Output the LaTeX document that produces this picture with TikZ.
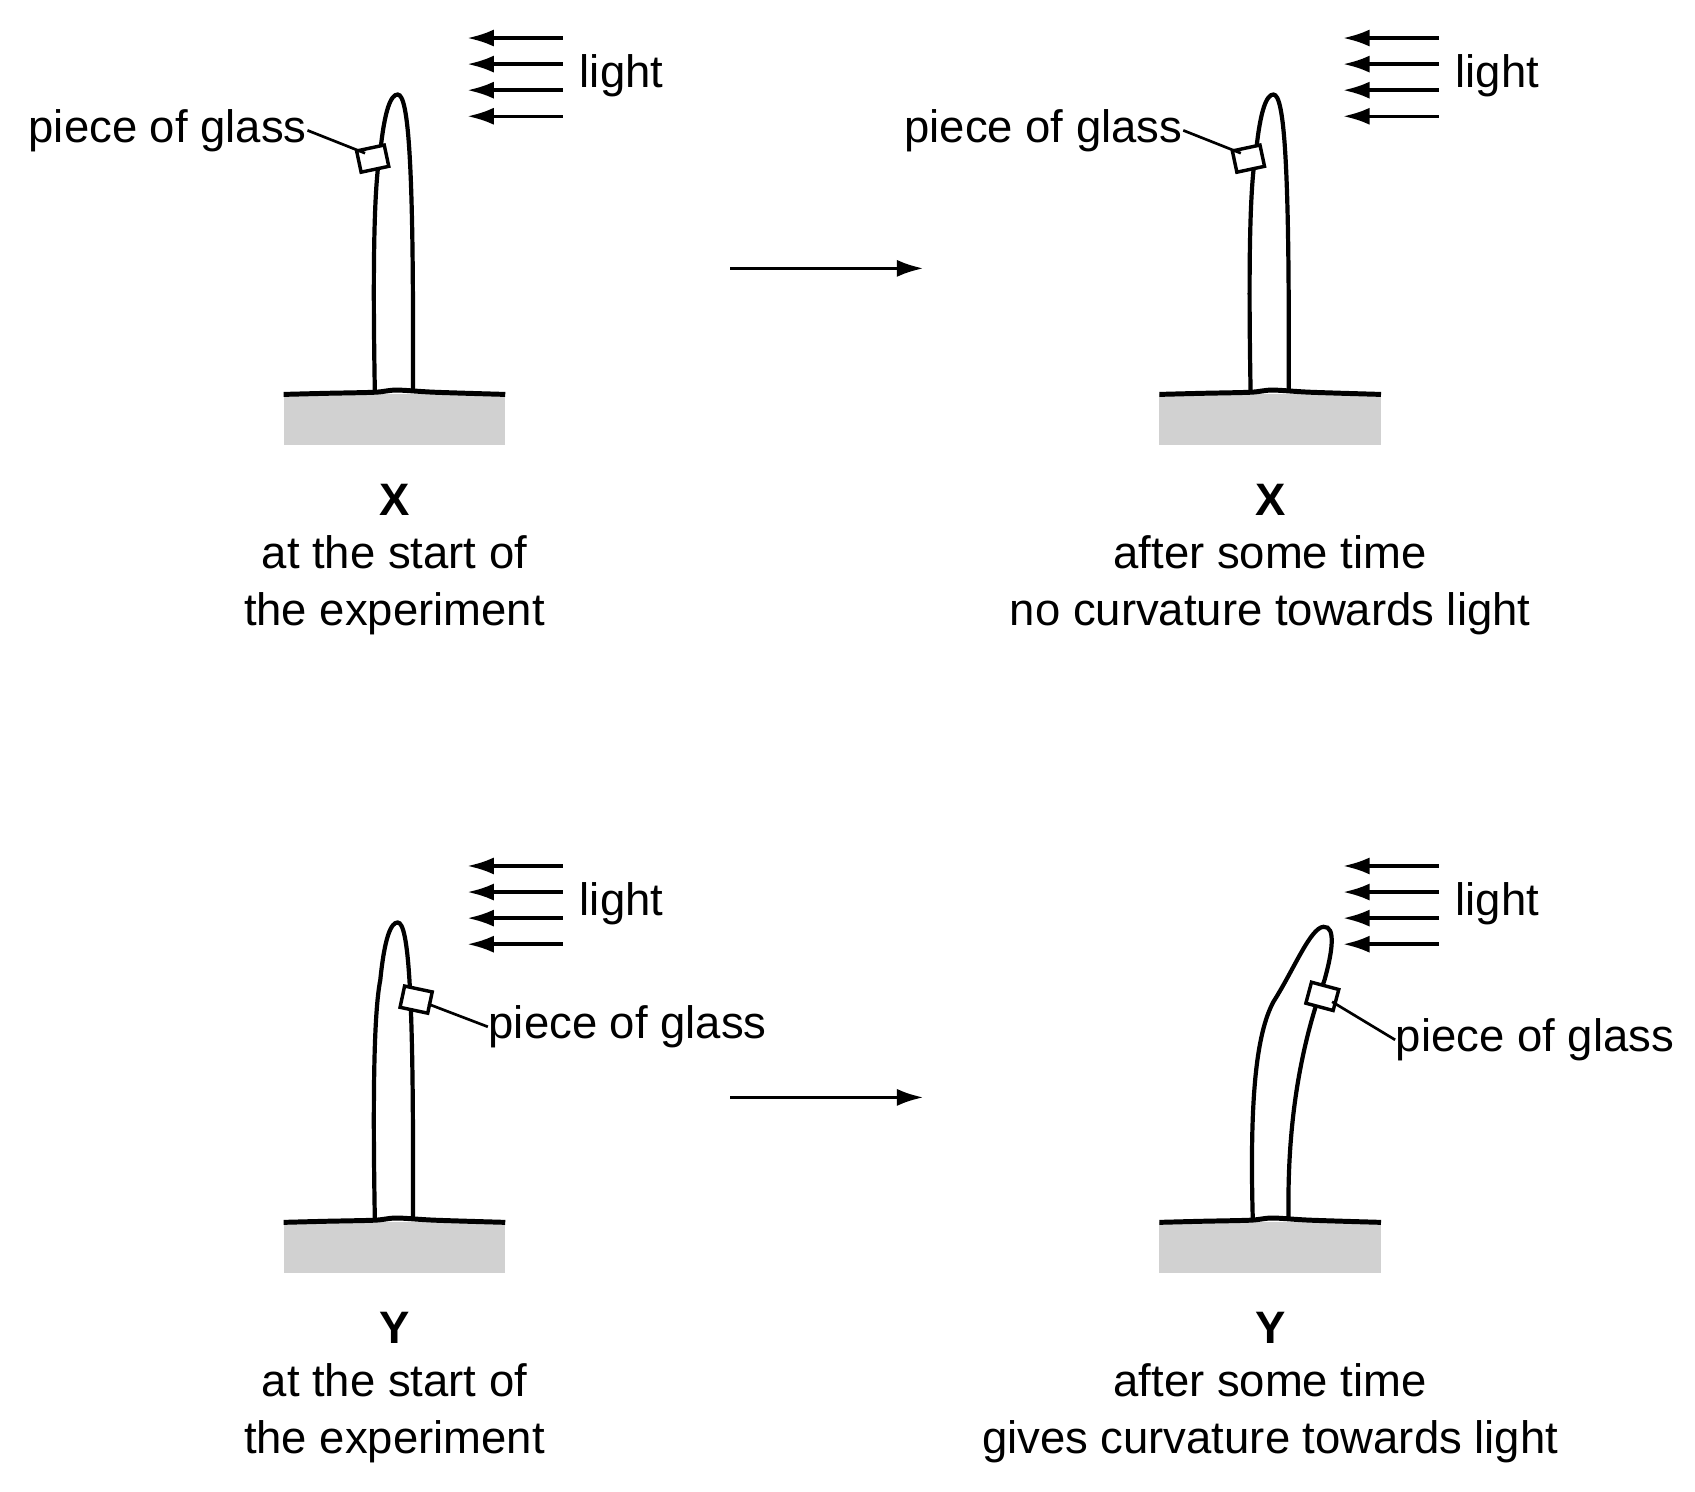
\documentclass[tikz,border=0pt]{standalone}
\usepackage{fontspec}
\setmainfont{Liberation Sans}
\usetikzlibrary{arrows.meta}
\tikzset{
  lbl/.style={font=\fontsize{11.9pt}{14.8pt}\selectfont, inner sep=0pt},
  caption/.style={lbl, align=center},
  ray/.style={-{Latex[length=7pt,width=4.5pt]}, line width=0.9pt},
  stem/.style={line width=1.1pt, fill=white},
  soil/.style={fill=black!18, draw=none},
}
\newcommand{\groundpiece}{%
  \fill[soil] (261,363) rectangle (465,410);
  \draw[line width=1.3pt] plot[smooth] coordinates {(261,363) (300,362) (345,361) (365,359) (400,361) (465,363)};
}
\newcommand{\lightrays}{%
  \foreach \yy in {35,59,83,107} \draw[ray] (518,\yy) -- (430,\yy);
  \node[lbl, anchor=west] (lightLabel) at (533,70) {light};
}
\begin{document}
\begin{tikzpicture}[x=0.01cm, y=-0.01cm]
\useasboundingbox (0,0) rectangle (1560,1373);

% X at the start
\begin{scope}
\lightrays
\draw[stem] (345,361) .. controls (343,250) and (344,170) .. (350,140) .. controls (354,100) and (360,87) .. (366,87) .. controls (376,87) and (381,150) .. (380,361);
\draw[line width=0.9pt, fill=white, rotate around={12:(343,146)}] (330,136) rectangle (356,156);
\coordinate (glassXa) at (336,141);
\node[lbl, anchor=east] (glassLabelXa) at (283,120) {piece of glass};
\draw[line width=0.7pt] (glassLabelXa.east) -- (glassXa);
\groundpiece
\node[caption] (capXa) at (363,515) {\textbf{X}\\[-1pt]at the start of\\the experiment};
\end{scope}

% X after some time
\begin{scope}[shift={(806,0)}]
\lightrays
\draw[stem] (345,361) .. controls (343,250) and (344,170) .. (350,140) .. controls (354,100) and (360,87) .. (366,87) .. controls (376,87) and (381,150) .. (380,361);
\draw[line width=0.9pt, fill=white, rotate around={12:(343,146)}] (330,136) rectangle (356,156);
\coordinate (glassXb) at (336,141);
\node[lbl, anchor=east] (glassLabelXb) at (283,120) {piece of glass};
\draw[line width=0.7pt] (glassLabelXb.east) -- (glassXb);
\groundpiece
\node[caption] (capXb) at (363,515) {\textbf{X}\\[-1pt]after some time\\no curvature towards light};
\end{scope}

% Y at the start
\begin{scope}[shift={(0,762)}]
\lightrays
\draw[stem] (345,361) .. controls (343,250) and (344,170) .. (350,140) .. controls (354,100) and (360,87) .. (366,87) .. controls (376,87) and (381,150) .. (380,361);
\draw[line width=0.9pt, fill=white, rotate around={-12:(383,158)}] (370,148) rectangle (396,168);
\coordinate (glassYa) at (394,162);
\node[lbl, anchor=west] (glassLabelYa) at (449,183) {piece of glass};
\draw[line width=0.7pt] (glassYa) -- (glassLabelYa.west);
\groundpiece
\node[caption] (capYa) at (363,515) {\textbf{Y}\\[-1pt]at the start of\\the experiment};
\end{scope}

% Y after some time
\begin{scope}[shift={(806,762)}]
\lightrays
\draw[stem] (347,360) .. controls (344,250) and (350,190) .. (366,160) .. controls (385,130) and (400,92) .. (412,91) .. controls (424,90) and (420,115) .. (413,140) .. controls (395,190) and (378,260) .. (380,360);
\draw[line width=0.9pt, fill=white, rotate around={-15:(411,155)}] (398,145) rectangle (424,165);
\coordinate (glassYb) at (420,160);
\node[lbl, anchor=west] (glassLabelYb) at (478,195) {piece of glass};
\draw[line width=0.7pt] (glassYb) -- (glassLabelYb.west);
\groundpiece
\node[caption] (capYb) at (363,515) {\textbf{Y}\\[-1pt]after some time\\gives curvature towards light};
\end{scope}

% time arrows
\coordinate (stepXa) at (672,247); \coordinate (stepXb) at (850,247);
\draw[ray] (stepXa) -- (stepXb);
\coordinate (stepYa) at (672,1010); \coordinate (stepYb) at (850,1010);
\draw[ray] (stepYa) -- (stepYb);
\end{tikzpicture}
\end{document}
